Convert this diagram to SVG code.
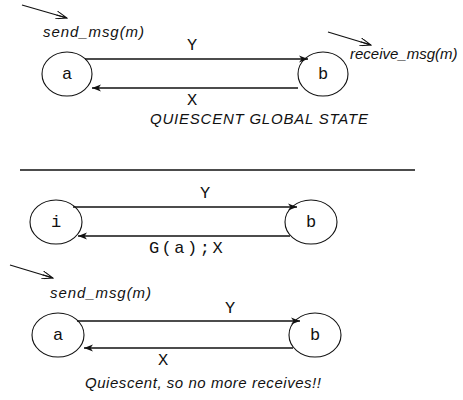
<svg xmlns="http://www.w3.org/2000/svg" width="463" height="400" viewBox="0 0 463 400">
<defs>
<marker id="ah" markerWidth="10" markerHeight="8" refX="9" refY="4" orient="auto" markerUnits="userSpaceOnUse">
<path d="M0,0.5 L9,4 L0,7.5 L2.5,4 Z" fill="#111"/>
</marker>
<marker id="ah2" markerWidth="12" markerHeight="8" refX="11" refY="4" orient="auto" markerUnits="userSpaceOnUse">
<path d="M0,0 L11,4 L0,8 M0,4 L11,4" fill="none" stroke="#111" stroke-width="1"/>
</marker>
<style>
.node ellipse{fill:#fff;stroke:#111;stroke-width:1.1}
.lbl{font-family:"Liberation Mono","DejaVu Sans Mono",monospace;font-size:17px;fill:#111;text-anchor:middle}
.it{font-family:"Liberation Sans",Arial,sans-serif;font-style:italic;font-size:15px;fill:#111}
.conn line{stroke:#111;stroke-width:1.3}
.ptr{stroke:#111;stroke-width:1.2}
</style>
</defs>
<rect width="463" height="400" fill="#fff"/>

<!-- Top section -->
<g id="top-a" class="node"><ellipse cx="67" cy="74" rx="25" ry="22"/><text class="lbl" x="67" y="79">a</text></g>
<g id="top-b" class="node"><ellipse cx="323" cy="74" rx="25" ry="22"/><text class="lbl" x="323" y="79">b</text></g>

<!-- Middle section -->
<g id="mid-i" class="node"><ellipse cx="56" cy="222" rx="26" ry="22"/><text class="lbl" x="56" y="227">i</text></g>
<g id="mid-b" class="node"><ellipse cx="311" cy="222" rx="26" ry="22"/><text class="lbl" x="311" y="227">b</text></g>

<!-- Bottom section -->
<g id="bot-a" class="node"><ellipse cx="58" cy="335" rx="26" ry="22"/><text class="lbl" x="58" y="340">a</text></g>
<g id="bot-b" class="node"><ellipse cx="315" cy="335" rx="26" ry="22"/><text class="lbl" x="315" y="340">b</text></g>

<g id="connectors" class="conn">
<line x1="85" y1="59" x2="308" y2="59" marker-end="url(#ah)"/>
<line x1="298" y1="88" x2="92" y2="88" marker-end="url(#ah)"/>
<line x1="73" y1="207" x2="297" y2="207" marker-end="url(#ah)"/>
<line x1="290" y1="236" x2="78" y2="236" marker-end="url(#ah)"/>
<line x1="77" y1="321" x2="300" y2="321" marker-end="url(#ah)"/>
<line x1="293" y1="348" x2="84" y2="348" marker-end="url(#ah)"/>
</g>

<g id="labels">
<text class="lbl" x="192" y="50">Y</text>
<text class="lbl" x="192" y="105">X</text>
<text class="lbl" x="205" y="198">Y</text>
<text class="lbl" x="187" y="253" letter-spacing="2.5">G(a);X</text>
<text class="lbl" x="230" y="313">Y</text>
<text class="lbl" x="163" y="365">X</text>
</g>

<g id="annotations">
<line class="ptr" x1="22" y1="5" x2="67" y2="18" marker-end="url(#ah2)"/>
<text class="it" x="43" y="37" textLength="101" lengthAdjust="spacing">send_msg(m)</text>
<line class="ptr" x1="328" y1="32" x2="371" y2="45" marker-end="url(#ah2)"/>
<text class="it" x="350" y="59">receive_msg(m)</text>
<text class="it" x="150" y="124" textLength="218" lengthAdjust="spacing">QUIESCENT GLOBAL STATE</text>
<line x1="20" y1="170" x2="415" y2="170" stroke="#111" stroke-width="1.5"/>
<line class="ptr" x1="10" y1="265" x2="53" y2="278" marker-end="url(#ah2)"/>
<text class="it" x="50" y="298" textLength="101" lengthAdjust="spacing">send_msg(m)</text>
<text class="it" x="85" y="388" textLength="236" lengthAdjust="spacing">Quiescent, so no more receives!!</text>
</g>
</svg>
